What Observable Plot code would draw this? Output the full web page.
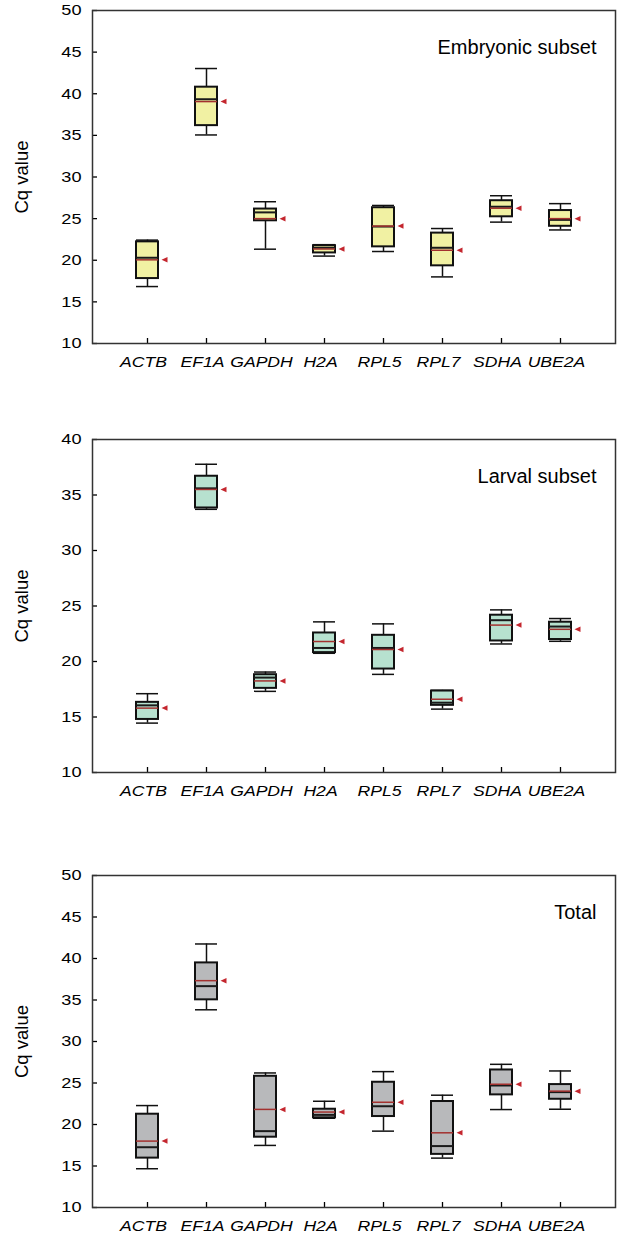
<!DOCTYPE html>
<html>
<head>
<meta charset="utf-8">
<script src="https://cdn.jsdelivr.net/npm/d3@7"></script>
<script src="https://cdn.jsdelivr.net/npm/@observablehq/plot@0.6"></script>
<style>
  html, body { margin: 0; padding: 0; background: white; }
  #chart svg { display: block; }
</style>
</head>
<body>
<div id="chart"></div>
<script>
const genes = ["ACTB", "EF1A", "GAPDH", "H2A", "RPL5", "RPL7", "SDHA", "UBE2A"];
const panelLabels = ["Embryonic subset", "Larval subset", "Total"];
const yLabel = "Cq value";

// Embryonic subset
const embMin  = [16.84, 35.05, 21.33, 20.50, 21.05, 18.00, 24.58, 23.64];
const embQ1   = [17.80, 36.17, 24.74, 20.88, 21.61, 19.33, 25.22, 24.08];
const embMed  = [20.30, 39.34, 25.75, 21.50, 24.05, 21.50, 26.43, 24.85];
const embQ3   = [22.21, 40.79, 26.15, 21.75, 26.31, 23.26, 27.15, 25.97];
const embMax  = [22.42, 43.03, 27.03, 21.87, 26.58, 23.81, 27.75, 26.80];
const embMean = [20.05, 39.06, 25.00, 21.35, 24.10, 21.20, 26.25, 25.00];

// Larval subset
const larMin  = [14.45, 33.71, 17.31, 20.74, 18.84, 15.71, 21.58, 21.82];
const larQ1   = [14.78, 33.83, 17.58, 20.80, 19.32, 16.05, 21.85, 21.98];
const larMed  = [16.05, 35.60, 18.55, 21.22, 21.22, 16.29, 23.72, 23.15];
const larQ3   = [16.32, 36.69, 18.81, 22.57, 22.36, 17.34, 24.17, 23.54];
const larMax  = [17.10, 37.77, 19.05, 23.57, 23.39, 17.40, 24.65, 23.87];
const larMean = [15.80, 35.50, 18.25, 21.80, 21.08, 16.60, 23.28, 22.90];

// Total
const totMin  = [14.67, 33.82, 17.48, 20.75, 19.20, 15.95, 21.80, 21.84];
const totQ1   = [15.95, 35.02, 18.47, 20.80, 20.96, 16.40, 23.57, 23.04];
const totMed  = [17.26, 36.67, 19.20, 21.16, 22.20, 17.40, 24.70, 23.90];
const totQ3   = [21.24, 39.47, 25.81, 21.84, 25.09, 22.77, 26.57, 24.81];
const totMax  = [22.28, 41.75, 26.21, 22.80, 26.37, 23.53, 27.25, 26.45];
const totMean = [18.00, 37.33, 21.82, 21.50, 22.68, 19.00, 24.85, 24.02];

const yDomains = [[10, 50], [10, 40], [10, 50]];
const fills = ["#f1f1a3", "#b7e1cf", "#b8b9bb"];

function rows(min, q1, med, q3, max, mean) {
  return genes.map((g, i) => ({gene: g, min: min[i], q1: q1[i], med: med[i], q3: q3[i], max: max[i], mean: mean[i]}));
}

const datasets = [
  rows(embMin, embQ1, embMed, embQ3, embMax, embMean),
  rows(larMin, larQ1, larMed, larQ3, larMax, larMean),
  rows(totMin, totQ1, totMed, totQ3, totMax, totMean)
];

const layouts = [
  {height: 400, marginTop: 10, marginBottom: 57},
  {height: 400, marginTop: 39, marginBottom: 28},
  {height: 435, marginTop: 75, marginBottom: 28}
];

const leftTriangle = {
  draw(ctx, size) {
    const r = Math.sqrt(size / Math.PI);
    ctx.moveTo(-1.2 * r, 0);
    ctx.lineTo(1.2 * r, -1.1 * r);
    ctx.lineTo(1.2 * r, 1.1 * r);
    ctx.closePath();
  }
};

const font = "'Liberation Sans', Arial, Helvetica, sans-serif";
const container = document.getElementById("chart");

// widen label glyphs (the reference font is wider than Arial) without moving them
function widen(t, s) {
  const w = t.getComputedTextLength();
  if (w > 0) {
    t.setAttribute("textLength", (w * s).toFixed(2));
    t.setAttribute("lengthAdjust", "spacingAndGlyphs");
  }
}

datasets.forEach((data, k) => {
  const dom = yDomains[k];
  const ticks = d3.range(dom[0], dom[1] + 1, 5);
  const L = layouts[k];
  const chart = Plot.plot({
    width: 617,
    height: L.height,
    marginTop: L.marginTop,
    marginBottom: L.marginBottom,
    marginLeft: 92,
    marginRight: 2,
    style: {fontFamily: font, fontSize: "16px", color: "black", background: "white"},
    x: {type: "band", domain: genes, paddingInner: 0.63, paddingOuter: 0.7175, align: 0.5},
    y: {domain: dom, nice: false},
    marks: [
      Plot.axisY({ticks, tickSize: 5, dx: 5, tickFormat: () => "", label: null, strokeWidth: 1.3}),
      Plot.axisY({ticks, tickSize: 0, tickPadding: 11, fontSize: 15.5, label: null}),
      Plot.axisX({tickSize: 5, dy: -5, tickFormat: () => "", label: null, strokeWidth: 1.3}),
      Plot.axisX({tickSize: 0, tickPadding: 13, dx: -4, fontSize: 15.3, fontStyle: "italic", label: null}),
      Plot.ruleX(data, {x: "gene", y1: "min", y2: "max", stroke: "#111", strokeWidth: 1.5}),
      Plot.tickY(data, {x: "gene", y: "min", stroke: "#111", strokeWidth: 1.5}),
      Plot.tickY(data, {x: "gene", y: "max", stroke: "#111", strokeWidth: 1.5}),
      Plot.barY(data, {x: "gene", y1: "q1", y2: "q3", fill: fills[k], stroke: "#111", strokeWidth: 2}),
      Plot.tickY(data, {x: "gene", y: "med", stroke: "#1a1a1a", strokeWidth: 2}),
      Plot.tickY(data, {x: "gene", y: "mean", stroke: "#a3312f", strokeWidth: 1.5}),
      Plot.dot(data, {x: "gene", y: "mean", symbol: leftTriangle, r: 2.5, fill: "#c4262e", stroke: "none", dx: 17}),
      Plot.text([yLabel], {text: d => d, frameAnchor: "left", textAnchor: "middle", lineAnchor: "middle", rotate: -90, dx: -70, fontSize: 18.5}),
      Plot.text([panelLabels[k]], {text: d => d, frameAnchor: "top-right", textAnchor: "end", lineAnchor: "top", dx: -19, dy: 29, fontSize: 20}),
      Plot.frame({stroke: "#333", strokeWidth: 1.5})
    ]
  });
  container.appendChild(chart);
  chart.querySelectorAll('g[aria-label="y-axis tick label"] text').forEach(t => widen(t, 1.17));
  chart.querySelectorAll('g[aria-label="x-axis tick label"] text').forEach(t => widen(t, 1.15));
});
</script>
</body>
</html>
